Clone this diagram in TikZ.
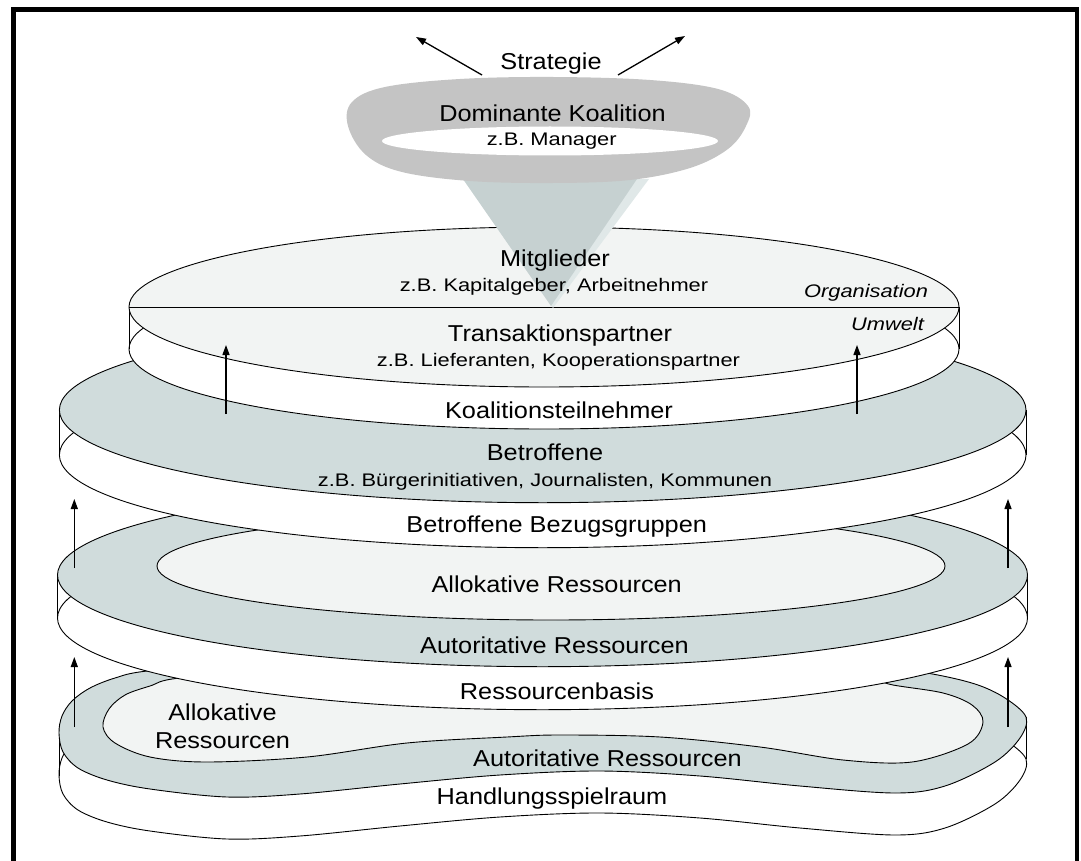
\documentclass[tikz,border=0pt]{standalone}
\usepackage{fontspec}
\setmainfont{Liberation Sans}[FakeStretch=1.1]
\newfontfamily\labelsmall{Liberation Sans}[FakeStretch=1.2]
\usetikzlibrary{arrows.meta}
\definecolor{bandgray}{RGB}{208,220,220}
\definecolor{facelight}{RGB}{242,244,243}
\definecolor{ringgray}{RGB}{196,196,196}
\definecolor{conegray}{RGB}{198,209,209}
\definecolor{conelight}{RGB}{224,232,232}
\tikzset{
  outline/.style={draw=black, line width=0.9pt},
  big/.style={font=\fontsize{23}{27}\selectfont, anchor=base, inner sep=0pt},
  small/.style={font=\labelsmall\fontsize{18.2}{22}\selectfont, anchor=base, inner sep=0pt},
  smallit/.style={font=\labelsmall\fontsize{18.2}{22}\selectfont\itshape, anchor=base, inner sep=0pt},
  uparrow/.style={line width=1.3pt, -{Triangle[length=10pt,width=7pt]}},
}
% top outline of the lowest, peanut-shaped slab
\def\peanutouter{plot[smooth cycle, tension=0.55] coordinates {
  (59,733) (62,716) (72,701) (90,688) (115,678) (147,671) (250,662) (400,665)
  (553,672) (700,666) (850,662) (927,673) (975,684) (1005,698) (1026,717)
  (1020,738) (995,762) (945,786) (895,793) (800,786) (700,776) (600,771)
  (500,775) (400,784) (300,794) (227,797) (150,789) (107,780) (78,768)
  (63,752)}}
% inner face of the peanut-shaped slab
\def\peanutinner{plot[smooth cycle, tension=0.55] coordinates {
  (103,727) (109,709) (125,695) (150,686) (180,678) (300,670) (450,672)
  (560,680) (700,678) (850,676) (893,685) (943,693) (972,705) (983,722)
  (968,744) (912,762) (843,760) (760,747) (660,737) (560,735) (507,737)
  (407,743) (307,757) (207,762) (150,757) (115,743)}}
\begin{document}
\begin{tikzpicture}[x=1pt,y=-1pt]
\useasboundingbox (0,0) rectangle (1081,861);
\fill[white] (0,0) rectangle (1081,861);

% frame
\draw[line width=4.3pt] (13.5,861) -- (13.5,9.5) -- (1077.3,9.5) -- (1077.3,861);

% ---- slab 4: Handlungsspielraum ----
\foreach \s in {0,3,...,42} {\fill[white, shift={(0,\s)}] \peanutouter;}
\draw[outline, shift={(0,42)}] \peanutouter;
\draw[outline] (59.3,733) -- (59.3,776) (1026,717) -- (1026,759);
\filldraw[fill=bandgray, outline] \peanutouter;
\filldraw[fill=facelight, outline] \peanutinner;

% ---- slab 3: Ressourcenbasis ----
\fill[white] (57.5,575) rectangle (1027.5,618);
\filldraw[fill=white, outline] (542.5,618) ellipse [x radius=485, y radius=91.7];
\draw[outline] (57.5,575) -- (57.5,618) (1027.5,575) -- (1027.5,618);
\filldraw[fill=bandgray, outline] (542.5,575) ellipse [x radius=485, y radius=91.7];
\filldraw[fill=facelight, outline] (551,566) ellipse [x radius=394, y radius=54];

% ---- slab 2: Betroffene Bezugsgruppen ----
\fill[white] (59.4,410) rectangle (1026,455);
\filldraw[fill=white, outline] (542.7,455) ellipse [x radius=483.3, y radius=92.7];
\draw[outline] (59.4,410) -- (59.4,455) (1026,410) -- (1026,455);
\filldraw[fill=bandgray, outline] (542.7,410) ellipse [x radius=483.3, y radius=92.7];

% ---- slab 1: Organisation / Umwelt ----
\fill[white] (129,307) rectangle (959,349);
\filldraw[fill=white, outline] (544,349) ellipse [x radius=415, y radius=80];
\draw[outline] (129,307) -- (129,349) (959,307) -- (959,349);
\filldraw[fill=facelight, outline] (544,307) ellipse [x radius=415, y radius=80];
\draw[outline] (129,307) -- (959,307);

% ---- funnel ----
\fill[conelight] (463,179) -- (649,179) -- (553,308) -- cycle;
\fill[conegray] (463,179) -- (637,179) -- (551,306) -- cycle;
\fill[ringgray] plot[smooth cycle, tension=0.6] coordinates {
  (553,77) (650,80) (718,89) (748,106) (746,126) (728,149) (690,168)
  (630,180) (553,183) (470,181) (402,172) (366,155) (348,126) (352,102)
  (385,87) (460,79)};
\fill[white] (550,141) ellipse [x radius=168, y radius=14.5];

% ---- labels ----
\node[big] (strat) at (551,69.3) {Strategie};
\node[big] (dom) at (552.5,122) {Dominante Koalition};
\node[small] (mgr) at (551.7,145.7) {z.B. Manager};
\node[big] (mitgl) at (555,266) {Mitglieder};
\node[small] (kap) at (554,291.7) {z.B. Kapitalgeber, Arbeitnehmer};
\node[smallit] (org) at (866,297) {Organisation};
\node[smallit] (umw) at (887.5,330.7) {Umwelt};
\node[big] (trans) at (560,341.7) {Transaktionspartner};
\node[small] (lief) at (558.5,366.7) {z.B. Lieferanten, Kooperationspartner};
\node[big] (koal) at (559,418.3) {Koalitionsteilnehmer};
\node[big] (betr) at (545,460) {Betroffene};
\node[small] (buerg) at (545,486) {z.B. Bürgerinitiativen, Journalisten, Kommunen};
\node[big] (bezug) at (556.7,532.7) {Betroffene Bezugsgruppen};
\node[big] (alloc) at (556.7,592.7) {Allokative Ressourcen};
\node[big] (autor) at (554.5,653.3) {Autoritative Ressourcen};
\node[big] (basis) at (557,699.3) {Ressourcenbasis};
\node[big] (allocA) at (222.5,720) {Allokative};
\node[big] (allocB) at (222.5,748.3) {Ressourcen};
\node[big] (autorB) at (607.5,766.7) {Autoritative Ressourcen};
\node[big] (handl) at (552,804) {Handlungsspielraum};

% ---- arrows ----
\coordinate (sL0) at (482,75);  \coordinate (sL1) at (416,37);
\coordinate (sR0) at (618,75);  \coordinate (sR1) at (685,36);
\draw[uparrow] (sL0) -- (sL1);
\draw[uparrow] (sR0) -- (sR1);
\coordinate (a1s) at (226,414);  \coordinate (a1e) at (226,345);
\coordinate (a2s) at (857,414);  \coordinate (a2e) at (857,345);
\coordinate (a3s) at (74.3,568); \coordinate (a3e) at (74.3,499);
\coordinate (a4s) at (1008,568); \coordinate (a4e) at (1008,499);
\coordinate (a5s) at (74.3,727); \coordinate (a5e) at (74.3,657);
\coordinate (a6s) at (1008,727); \coordinate (a6e) at (1008,657);
\foreach \k in {1,...,6} {\draw[uparrow] (a\k s) -- (a\k e);}
\end{tikzpicture}
\end{document}
